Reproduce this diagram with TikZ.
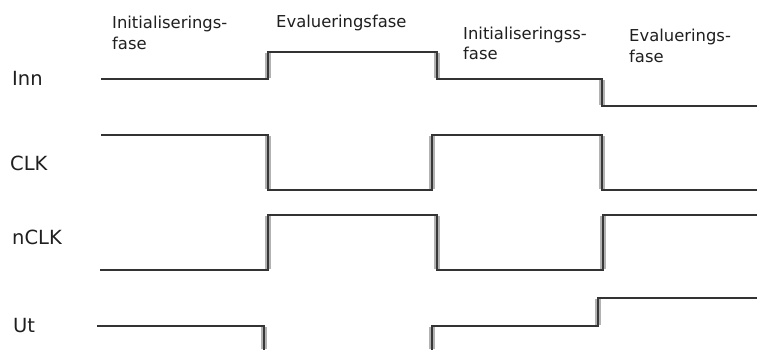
\documentclass[tikz,border=0pt]{standalone}
\usepackage{fontspec}
\setmainfont{DejaVu Sans}
\begin{document}
\begin{tikzpicture}[x=1pt,y=-1pt,
  level/.style={line width=1.6pt, draw=black!80, line join=miter},
  edgeglow/.style={line width=5.5pt, draw=black!30},
  edgecore/.style={line width=2.6pt, draw=black!78},
  txt/.style={anchor=base west, inner sep=0pt, text=black!88},
  lbl/.style={txt, font=\fontsize{19.5}{23}\selectfont},
  phase/.style={txt, font=\fontsize{16.4}{20}\selectfont}]
\useasboundingbox (0,0) rectangle (757,350);

% soft shadow behind each switching edge
\foreach \x/\ya/\yb in {268/52/79, 437/52/79, 602/79/106,
                        268/135/190, 432/135/190, 602/135/190,
                        268/215/270, 437/215/270, 603/215/270,
                        264/326/350, 432/326/350, 598/298/326}
  \draw[edgeglow] (\x,\ya+1) -- (\x,\yb-1);

% signal waveforms
\draw[level] (101,79) -- (268,79) -- (268,52) -- (437,52) -- (437,79)
  -- (602,79) -- (602,106) -- (757,106);
\draw[level] (101,135) -- (268,135) -- (268,190) -- (432,190) -- (432,135)
  -- (602,135) -- (602,190) -- (757,190);
\draw[level] (100,270) -- (268,270) -- (268,215) -- (437,215) -- (437,270)
  -- (603,270) -- (603,215) -- (757,215);
\draw[level] (97,326) -- (264,326) -- (264,350);
\draw[level] (432,350) -- (432,326) -- (598,326) -- (598,298) -- (757,298);

% sharp core of each switching edge
\foreach \x/\ya/\yb in {268/52/79, 437/52/79, 602/79/106,
                        268/135/190, 432/135/190, 602/135/190,
                        268/215/270, 437/215/270, 603/215/270,
                        264/326/350, 432/326/350, 598/298/326}
  \draw[edgecore] (\x,\ya) -- (\x,\yb);

% signal names
\node[lbl] (inn)  at (12,86)  {Inn};
\node[lbl] (clk)  at (10,170) {CLK};
\node[lbl] (nclk) at (12,244) {nCLK};
\node[lbl] (ut)   at (13,332) {Ut};

% phase headings
\node[phase] (p1a) at (112,29) {Initialiserings-};
\node[phase] (p1b) at (112,50) {fase};
\node[phase] (p2)  at (276,28) {Evalueringsfase};
\node[phase] (p3a) at (463,40) {Initialiseringss-};
\node[phase] (p3b) at (463,60) {fase};
\node[phase] (p4a) at (629,42) {Evaluerings-};
\node[phase] (p4b) at (629,63) {fase};
\end{tikzpicture}
\end{document}
